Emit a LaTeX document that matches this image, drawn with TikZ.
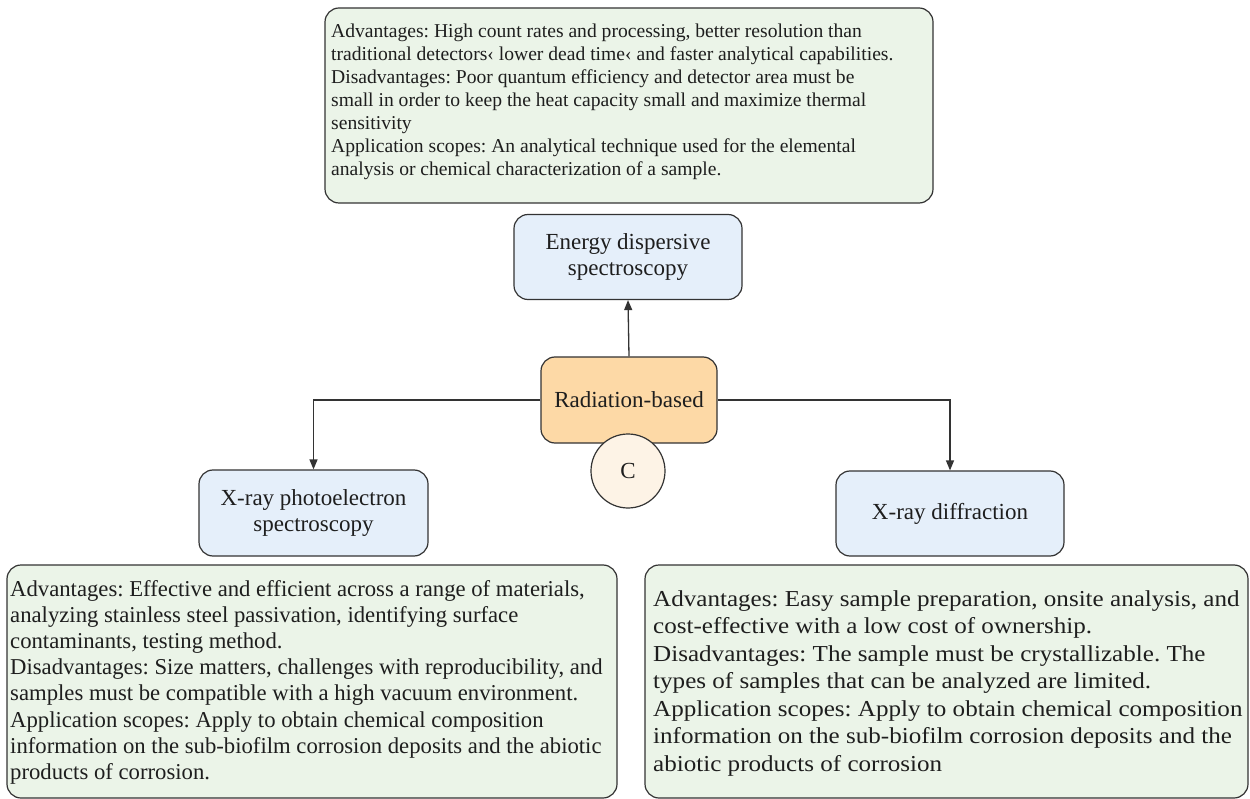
\documentclass[tikz,border=0pt]{standalone}
\usepackage{fontspec}
\setmainfont{Liberation Serif}
\newfontfamily\wideserif{Liberation Serif}[FakeStretch=1.1]
\usetikzlibrary{arrows.meta}
\frenchspacing

\definecolor{notegreen}{HTML}{EBF4E8}
\definecolor{methodblue}{HTML}{E5EFFA}
\definecolor{huborange}{HTML}{FDD9A6}
\definecolor{tagcream}{HTML}{FDF3E6}
\definecolor{edgegray}{HTML}{333333}
\definecolor{inkgray}{HTML}{1E1E1E}

\begin{document}
\begin{tikzpicture}[x=1pt,y=-1pt,
  box/.style={draw=edgegray, line width=1.2pt, rounded corners=14pt, inner sep=0pt},
  notebox/.style={box, fill=notegreen},
  notetext/.style={inner sep=0pt, align=left, text=inkgray, anchor=north west},
  methodbox/.style={box, fill=methodblue, align=center, text=inkgray,
    font=\fontsize{23}{26}\selectfont},
  hubbox/.style={box, fill=huborange, text=inkgray, font=\fontsize{23}{26}\selectfont},
  tag/.style={circle, draw=edgegray, line width=1.2pt, fill=tagcream, text=inkgray,
    minimum size=74pt, inner sep=0pt, font=\fontsize{23}{26}\selectfont},
  link/.style={draw=edgegray, line width=1.3pt, -{Triangle[length=10pt,width=8pt]}}
  ]
\useasboundingbox (0,0) rectangle (1250,799);

% Energy dispersive spectroscopy: notes and method box
\node[notebox, minimum width=608pt, minimum height=195pt] (edsnote) at (629,105.5) {};
\node[notetext, font=\fontsize{19.6}{23}\selectfont] (edstext) at (331,24)
  {Advantages: High count rates and processing, better resolution than\\
   traditional detectors‹ lower dead time‹ and faster analytical capabilities.\\
   Disadvantages: Poor quantum efficiency and detector area must be\\
   small in order to keep the heat capacity small and maximize thermal\\
   sensitivity\\
   Application scopes: An analytical technique used for the elemental\\
   analysis or chemical characterization of a sample.};
\node[methodbox, minimum width=228pt, minimum height=85pt] (eds) at (628,257)
  {Energy dispersive\\spectroscopy};

% Central hub
\node[hubbox, minimum width=176pt, minimum height=86pt] (rad) at (629,400)
  {Radiation-based};
\node[tag] (tagc) at (628,471) {C};

% Side methods
\node[methodbox, minimum width=229pt, minimum height=86pt] (xps) at (313.5,513)
  {X-ray photoelectron\\spectroscopy};
\node[methodbox, minimum width=228pt, minimum height=85pt] (xrd) at (950,513.5)
  {X-ray diffraction};

% Connectors
\draw[link] (rad.north) -- (eds.south);
\draw[link] (rad.west) -| (xps.north);
\draw[link] (rad.east) -| (xrd.north);

% Notes for XPS
\node[notebox, minimum width=610pt, minimum height=233pt] (xpsnote) at (312,681.5) {};
\node[notetext, font=\fontsize{22.7}{26.2}\selectfont] (xpstext) at (10,580)
  {Advantages: Effective and efficient across a range of materials,\\
   analyzing stainless steel passivation, identifying surface\\
   contaminants, testing method.\\
   Disadvantages: Size matters, challenges with reproducibility, and\\
   samples must be compatible with a high vacuum environment.\\
   Application scopes: Apply to obtain chemical composition\\
   information on the sub-biofilm corrosion deposits and the abiotic\\
   products of corrosion.};

% Notes for XRD
\node[notebox, minimum width=603pt, minimum height=233pt] (xrdnote) at (946.5,681.5) {};
\node[notetext, font=\wideserif\fontsize{22.8}{27.5}\selectfont] (xrdtext) at (653,590)
  {Advantages: Easy sample preparation, onsite analysis, and\\
   cost-effective with a low cost of ownership.\\
   Disadvantages: The sample must be crystallizable. The\\
   types of samples that can be analyzed are limited.\\
   Application scopes: Apply to obtain chemical composition\\
   information on the sub-biofilm corrosion deposits and the\\
   abiotic products of corrosion};
\end{tikzpicture}
\end{document}
